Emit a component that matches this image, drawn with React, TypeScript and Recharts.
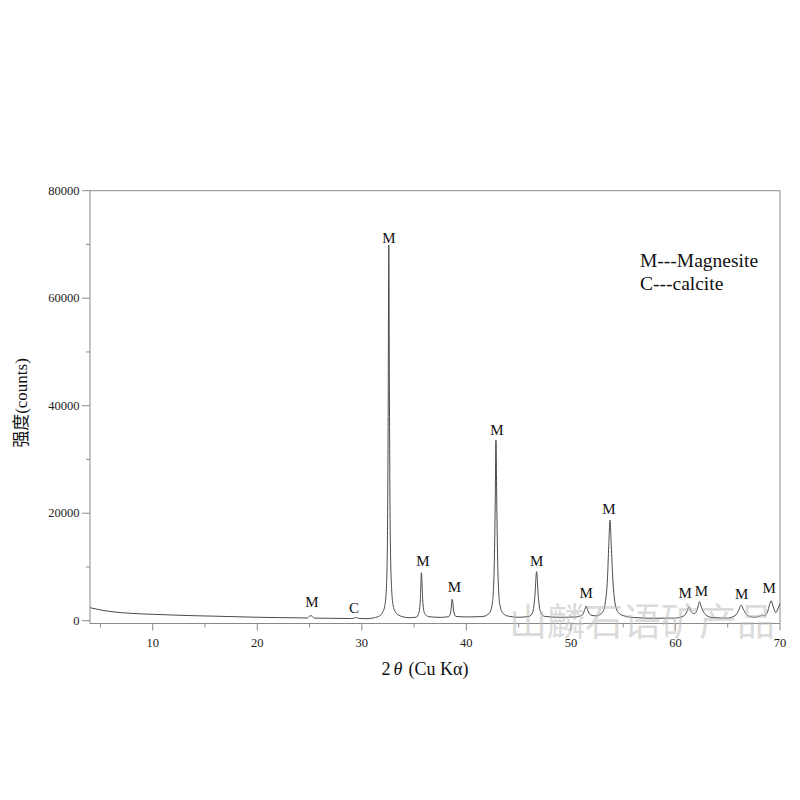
import React from 'react';
import { ComposedChart, Line, Scatter, XAxis, YAxis, ReferenceLine } from 'recharts';

const twoTheta = [
  4, 5, 6, 7, 8, 9, 10, 12, 14, 16, 18, 20, 22, 24, 24.8, 25.0, 25.15, 25.3, 25.5, 27, 29, 29.3, 29.5, 29.7, 30.5,
  31.2, 31.7, 32.0, 32.2, 32.35, 32.45, 32.52, 32.58, 32.64, 32.72, 32.85, 33.0, 33.3, 33.8, 34.5,
  35.2, 35.45, 35.6, 35.7, 35.82, 36.0, 36.4, 37.5, 38.3, 38.5, 38.65, 38.8, 39.0, 40, 41.5,
  42.2, 42.5, 42.65, 42.75, 42.83, 42.92, 43.02, 43.2, 43.5, 44, 45, 46, 46.35, 46.55, 46.72, 46.88, 47.1, 47.5,
  49, 50.5, 51.1, 51.3, 51.46, 51.62, 51.85, 52.4, 53.0, 53.3, 53.5, 53.62, 53.74, 53.86, 54.0, 54.2, 54.5, 55, 56, 58,
  60, 60.8, 61.1, 61.3, 61.5, 61.8, 62.1, 62.3, 62.5, 62.9, 63.5, 65, 65.8, 66.1, 66.3, 66.5, 66.9, 67.6,
  68.1, 68.3, 68.5, 68.8, 69.0, 69.15, 69.35, 69.6, 69.8, 70,
];
const intensity = [
  2420, 2000, 1700, 1500, 1360, 1260, 1190, 1050, 930, 840, 740, 640, 580, 530, 500, 850, 950, 700, 480, 450, 400, 520, 600, 430, 380,
  560, 900, 1600, 2800, 6000, 15000, 38000, 69900, 42000, 16000, 6000, 2800, 1400, 800, 560,
  650, 1400, 4000, 8930, 4000, 1400, 750, 620, 750, 1600, 3980, 1600, 800, 700, 760,
  1400, 3500, 9000, 20000, 33600, 20000, 9000, 3000, 1400, 850, 640, 800, 1600, 4500, 9120, 4500, 1600, 800,
  630, 700, 1100, 1900, 2716, 1900, 1100, 900, 1500, 3500, 8000, 14000, 18730, 14000, 8000, 3500, 1600, 950, 600, 450,
  500, 900, 1700, 2600, 1700, 1300, 2200, 3530, 2400, 1100, 600, 480, 1100, 2200, 2920, 2100, 950, 630,
  900, 1060, 900, 1600, 3000, 3720, 2600, 1500, 2200, 3240,
];

// phase labels above the peaks (2θ, counts at label centre)
const labelTheta = [25.23, 29.25, 32.6, 35.85, 38.86, 42.93, 46.72, 51.47, 53.64, 60.94, 62.49, 66.33, 68.97];
const labelCounts = [3390, 2360, 71290, 11200, 6330, 35480, 11100, 5210, 20780, 5150, 5530, 4970, 6080];
const labelText = ['M', 'C', 'M', 'M', 'M', 'M', 'M', 'M', 'M', 'M', 'M', 'M', 'M'];

const xTicks = [5, 10, 15, 20, 25, 30, 35, 40, 45, 50, 55, 60, 65, 70];
const yTicks = [0, 10000, 20000, 30000, 40000, 50000, 60000, 70000, 80000];

const legendLines = ['M---Magnesite', 'C---calcite'];

const pattern = twoTheta.map((x, i) => ({ x, y: intensity[i] }));
const labels = labelTheta.map((x, i) => ({ x, y: labelCounts[i], t: labelText[i] }));

const axisColor = '#8a8a8a';
const serif = "'Liberation Serif', 'Times New Roman', serif";

const XTick = (props: any) => {
  const { x, y, payload } = props;
  const major = payload.value % 10 === 0;
  return (
    <g>
      <line x1={x} x2={x} y1={y} y2={y + (major ? 7 : 4)} stroke={axisColor} strokeWidth={1} />
      {major && (
        <text x={x} y={y + 23.5} textAnchor="middle" fontSize={12.5} fontFamily={serif} fill="#222">
          {payload.value}
        </text>
      )}
    </g>
  );
};

const YTick = (props: any) => {
  const { x, y, payload } = props;
  const major = payload.value % 20000 === 0;
  return (
    <g>
      <line x1={x - (major ? 8 : 4)} x2={x} y1={y} y2={y} stroke={axisColor} strokeWidth={1} />
      {major && (
        <text x={x - 10.5} y={y + 4} textAnchor="end" fontSize={12.5} fontFamily={serif} fill="#222">
          {payload.value}
        </text>
      )}
    </g>
  );
};

const PeakLabel = (props: any) => {
  const { cx, cy, payload } = props;
  return (
    <text x={cx} y={cy + 5} textAnchor="middle" fontSize={15} fontFamily={serif} fill="#111">
      {payload.t}
    </text>
  );
};

export default function App() {
  return (
    <div style={{ position: 'absolute', left: 0, top: 0, width: 800, height: 800, background: '#fff' }}>
      <ComposedChart
        width={800}
        height={800}
        margin={{ top: 190.7, right: 20, bottom: 146.5, left: 30 }}
      >
        <XAxis
          type="number"
          dataKey="x"
          domain={[4, 70]}
          ticks={xTicks}
          allowDataOverflow
          tickSize={0}
          tickMargin={0}
          tickLine={false}
          tick={<XTick />}
          height={30}
          stroke={axisColor}
          interval={0}
        />
        <YAxis
          type="number"
          dataKey="y"
          domain={[-520, 80000]}
          ticks={yTicks}
          allowDataOverflow
          tickSize={0}
          tickMargin={0}
          tickLine={false}
          tick={<YTick />}
          width={60}
          stroke={axisColor}
          interval={0}
        />
        <ReferenceLine y={80000} stroke={axisColor} strokeWidth={1} ifOverflow="visible" />
        <ReferenceLine x={70} stroke={axisColor} strokeWidth={1} ifOverflow="visible" />
        <Line
          data={pattern}
          dataKey="y"
          type="monotone"
          stroke="#4a4a4a"
          strokeWidth={1}
          dot={false}
          activeDot={false}
          isAnimationActive={false}
        />
        <Scatter data={labels} dataKey="y" shape={<PeakLabel />} isAnimationActive={false} />
      </ComposedChart>
      <svg
        width={800}
        height={800}
        style={{ position: 'absolute', left: 0, top: 0, pointerEvents: 'none' }}
      >
        <text x={640} y={267} fontSize={19.5} fontFamily={serif} fill="#111">{legendLines[0]}</text>
        <text x={640} y={290} fontSize={19.5} fontFamily={serif} fill="#111">{legendLines[1]}</text>
        <text x={425} y={675} textAnchor="middle" fontSize={18} fontFamily={serif} fill="#111">
          <tspan>2</tspan>
          <tspan fontStyle="italic" dx={3}>θ</tspan>
          <tspan dx={6}>(Cu Kα)</tspan>
        </text>
        <text
          x={0}
          y={0}
          transform="translate(27,403) rotate(-90)"
          textAnchor="middle"
          fontSize={17}
          fontFamily={"'Liberation Serif', 'Noto Sans CJK SC', serif"}
          fill="#111"
        >
          强度(counts)
        </text>
        <text
          x={509}
          y={635}
          fontSize={38}
          letterSpacing={0}
          fontFamily={"'Noto Sans CJK SC', sans-serif"}
          fill="#bdbdbd"
          fillOpacity={0.55}
        >
          山麟石语矿产品
        </text>
      </svg>
    </div>
  );
}
